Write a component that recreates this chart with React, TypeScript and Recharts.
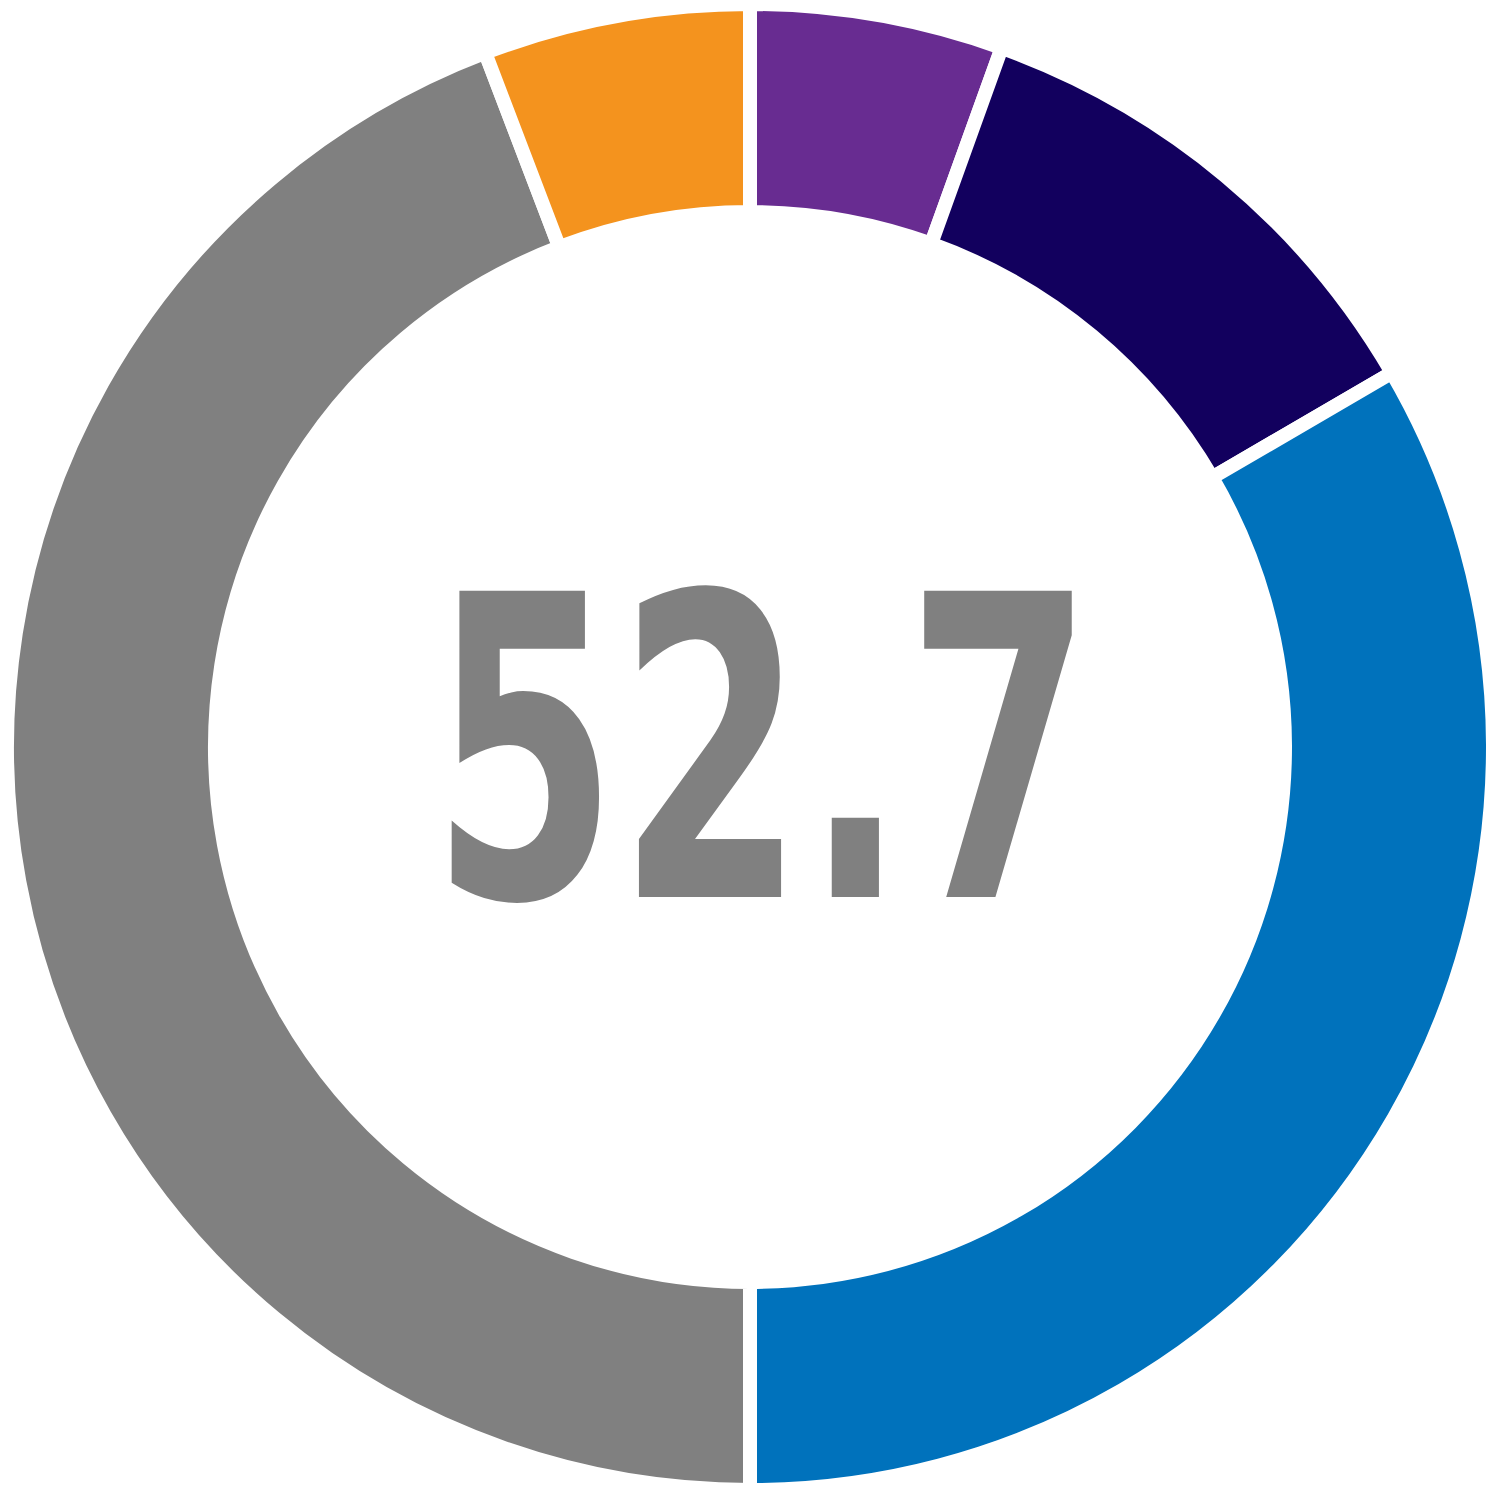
import React from 'react';
import { PieChart, Pie, Cell, Label } from 'recharts';

// segments clockwise from 12 o'clock
const segmentNames = ['Purple', 'Navy', 'Blue', 'Gray', 'Orange'];
const segmentValues = [5.5, 11.1, 33.4, 44.2, 5.8];
const segmentColors = ['#682C91', '#12005E', '#0072BC', '#808080', '#F4931E'];
const centerValue = '52.7';

const data = segmentNames.map((name, i) => ({ name, value: segmentValues[i] }));

const CX = 750;
const CY = 747;

const CenterText = () => (
	<text
		x={CX - 319}
		y={CY + 150}
		textAnchor='start'
		fill='#808080'
		fontFamily='DejaVu Sans Condensed, DejaVu Sans, sans-serif'
		fontWeight='bold'
		fontSize={420}
		textLength={662}
		lengthAdjust='spacingAndGlyphs'
	>
		{centerValue}
	</text>
);

export default function App() {
	return (
		<div style={{ position: 'absolute', left: 0, top: 0, width: 1500, height: 1500, background: '#fff' }}>
			<PieChart width={1500} height={1500} margin={{ top: 0, right: 0, bottom: 0, left: 0 }}>
				<Pie
					data={data}
					dataKey='value'
					cx={CX}
					cy={CY}
					innerRadius={535}
					outerRadius={743}
					startAngle={90}
					endAngle={-270}
					stroke='#ffffff'
					strokeWidth={14}
					isAnimationActive={false}
				>
					{data.map((entry, index) => (
						<Cell key={entry.name} fill={segmentColors[index]} />
					))}
					<Label position='center' content={CenterText} />
				</Pie>
			</PieChart>
		</div>
	);
}
